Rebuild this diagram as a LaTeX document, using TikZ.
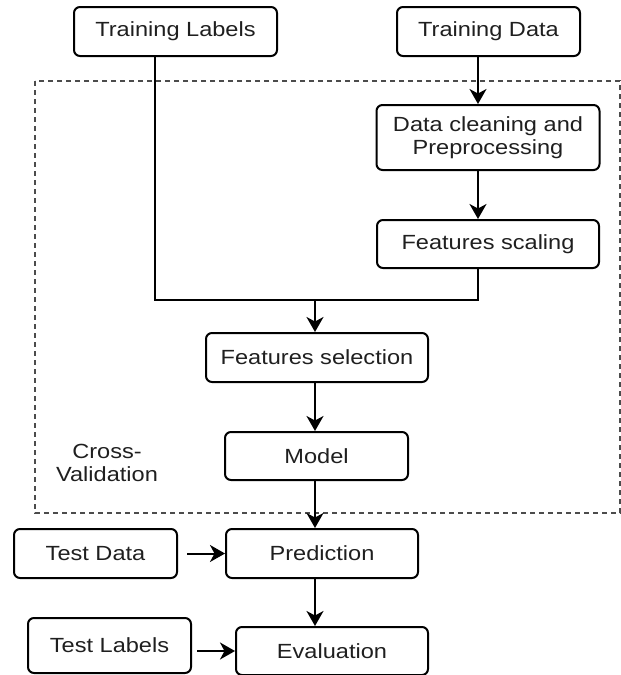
\documentclass[tikz,border=0pt]{standalone}
\usepackage{fontspec}
\setmainfont{Liberation Sans}[FakeStretch=1.15]
\usetikzlibrary{arrows.meta}

\begin{document}
\begin{tikzpicture}[x=1pt,y=-1pt,
  every node/.style={font=\fontsize{20.5}{23}\selectfont, text=black!88},
  box/.style={draw=black, line width=2pt, rounded corners=6pt,
    inner sep=0pt, align=center},
  wire/.style={draw=black, line width=2pt},
  arr/.style={wire, -{Stealth[length=15pt,width=17pt,inset=4.5pt]}},
  frame/.style={draw=black!70, line width=2pt, dash pattern=on 5pt off 4pt}]

  \useasboundingbox (0,0) rectangle (621,675);

  % cross-validation frame
  \draw[frame] (35,81) rectangle (620,513);

  % boxes
  \node[box, minimum width=203pt, minimum height=49pt] (tl) at (175.5,31.5) {Training Labels};
  \node[box, minimum width=183pt, minimum height=49pt] (td) at (488.5,31.5) {Training Data};
  \node[box, minimum width=223pt, minimum height=65pt] (dc) at (488,137.5) {Data cleaning and\\Preprocessing};
  \node[box, minimum width=222pt, minimum height=48pt] (fs) at (488,244) {Features scaling};
  \node[box, minimum width=222pt, minimum height=49pt] (sel) at (317,357.5) {Features selection};
  \node[box, minimum width=183pt, minimum height=48pt] (model) at (316.5,456) {Model};
  \node[box, minimum width=192pt, minimum height=49pt] (pred) at (322,553.5) {Prediction};
  \node[box, minimum width=163pt, minimum height=49pt] (tdata) at (95.5,553.5) {Test Data};
  \node[box, minimum width=192pt, minimum height=48pt] (eval) at (332,651) {Evaluation};
  \node[box, minimum width=163pt, minimum height=55pt] (tlab) at (109.5,645.5) {Test Labels};

  \node[align=center, inner sep=0pt] (cv) at (107,463) {Cross-\\Validation};

  % routing columns
  \coordinate (jl) at (155,300);
  \coordinate (jr) at (478,300);
  \coordinate (jm) at (315,300);

  % connectors
  \draw[arr] (td.south -| jr) -- (dc.north -| jr);
  \draw[arr] (dc.south -| jr) -- (fs.north -| jr);
  \draw[wire] (tl.south -| jl) -- (jl) -- (jr) -- (fs.south -| jr);
  \draw[arr] (jm) -- (sel.north -| jm);
  \draw[arr] (sel.south -| jm) -- (model.north -| jm);
  \draw[arr] (model.south -| jm) -- (pred.north -| jm);
  \draw[arr] (pred.south -| jm) -- (eval.north -| jm);
  \draw[arr, shorten <=9pt] (tdata.east) -- (pred.west);
  \draw[arr, shorten <=5pt] (tlab.east |- eval.west) -- (eval.west);
\end{tikzpicture}
\end{document}
